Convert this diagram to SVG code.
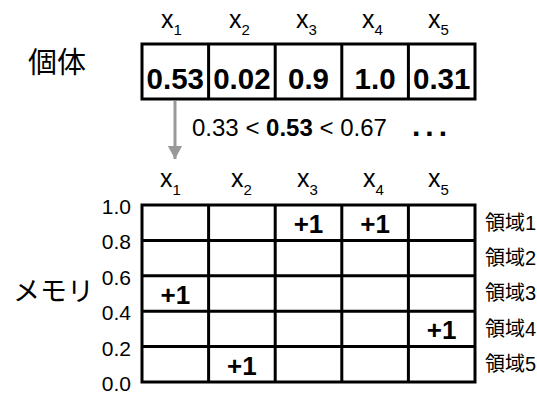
<svg xmlns="http://www.w3.org/2000/svg" width="537" height="398" viewBox="0 0 537 398">
  <defs>
    <style>
      text { font-family: "Liberation Sans", "Noto Sans CJK JP", sans-serif; fill: #000; }
      .jp { font-family: "Noto Sans CJK JP", sans-serif; }
      .xl { font-size: 25px; }
      .sub { font-size: 15px; }
      .val { font-size: 29.5px; font-weight: bold; text-anchor: middle; }
      .plus { font-size: 26px; font-weight: bold; text-anchor: middle; }
      .ax { font-size: 21px; text-anchor: end; }
      .reg { font-size: 20px; }
      .box { fill: #fff; stroke: #000; stroke-width: 3; }
      .ln { stroke: #000; stroke-width: 3; fill: none; }
      .arrow { stroke: #999; stroke-width: 3; fill: none; }
    </style>
    <marker id="ah" markerWidth="5" markerHeight="5" refX="4.4" refY="2.5" orient="auto" markerUnits="strokeWidth">
      <path d="M0,0.1 L4.5,2.5 L0,4.9 Z" fill="#999"/>
    </marker>
  </defs>
  <rect width="537" height="398" fill="#fff"/>

  <!-- individual -->
  <g id="individual-label">
    <text class="jp" x="28" y="73" font-size="29">個体</text>
  </g>
  <g id="individual-header">
    <text class="xl" x="161" y="28">x<tspan class="sub" dy="7">1</tspan></text>
    <text class="xl" x="229" y="28">x<tspan class="sub" dy="7">2</tspan></text>
    <text class="xl" x="296" y="28">x<tspan class="sub" dy="7">3</tspan></text>
    <text class="xl" x="362" y="28">x<tspan class="sub" dy="7">4</tspan></text>
    <text class="xl" x="428" y="28">x<tspan class="sub" dy="7">5</tspan></text>
  </g>
  <g id="individual">
    <rect class="box" x="142" y="44" width="333" height="55"/>
    <path class="ln" d="M208.6,44V99M275.2,44V99M341.8,44V99M408.4,44V99"/>
    <text class="val" x="175.3" y="88.5">0.53</text>
    <text class="val" x="241.9" y="88.5">0.02</text>
    <text class="val" x="308.5" y="88.5">0.9</text>
    <text class="val" x="375.1" y="88.5">1.0</text>
    <text class="val" x="441.7" y="88.5">0.31</text>
  </g>

  <g id="connectors">
    <line class="arrow" x1="175" y1="101" x2="175" y2="159" marker-end="url(#ah)"/>
  </g>

  <g id="condition">
    <text x="192" y="136" font-size="24">0.33 &lt; <tspan font-weight="bold">0.53</tspan> &lt; 0.67</text>
    <text x="412" y="136" font-size="30" font-weight="bold" letter-spacing="5">...</text>
  </g>

  <!-- memory -->
  <g id="memory-label">
    <text class="jp" x="13" y="301" font-size="27">メモリ</text>
  </g>
  <g id="memory-header">
    <text class="xl" x="160" y="187">x<tspan class="sub" dy="8">1</tspan></text>
    <text class="xl" x="231" y="187">x<tspan class="sub" dy="8">2</tspan></text>
    <text class="xl" x="297" y="187">x<tspan class="sub" dy="8">3</tspan></text>
    <text class="xl" x="363" y="187">x<tspan class="sub" dy="8">4</tspan></text>
    <text class="xl" x="428" y="187">x<tspan class="sub" dy="8">5</tspan></text>
  </g>
  <g id="memory-axis">
    <text class="ax" x="131" y="214">1.0</text>
    <text class="ax" x="131" y="249.4">0.8</text>
    <text class="ax" x="131" y="284.8">0.6</text>
    <text class="ax" x="131" y="320.2">0.4</text>
    <text class="ax" x="131" y="355.6">0.2</text>
    <text class="ax" x="131" y="391">0.0</text>
  </g>
  <g id="memory">
    <rect class="box" x="142" y="205" width="333" height="177"/>
    <path class="ln" d="M208.6,205V382M275.2,205V382M341.8,205V382M408.4,205V382"/>
    <path class="ln" d="M142,240.4H475M142,275.8H475M142,311.2H475M142,346.6H475"/>
    <text class="plus" x="308.5" y="233">+1</text>
    <text class="plus" x="375.1" y="233">+1</text>
    <text class="plus" x="175.3" y="303.8">+1</text>
    <text class="plus" x="441.7" y="339.2">+1</text>
    <text class="plus" x="241.9" y="374.6">+1</text>
  </g>
  <g id="regions">
    <text class="reg" x="485" y="229.5">領域1</text>
    <text class="reg" x="485" y="264.9">領域2</text>
    <text class="reg" x="485" y="300.3">領域3</text>
    <text class="reg" x="485" y="335.7">領域4</text>
    <text class="reg" x="485" y="371.1">領域5</text>
  </g>
</svg>
